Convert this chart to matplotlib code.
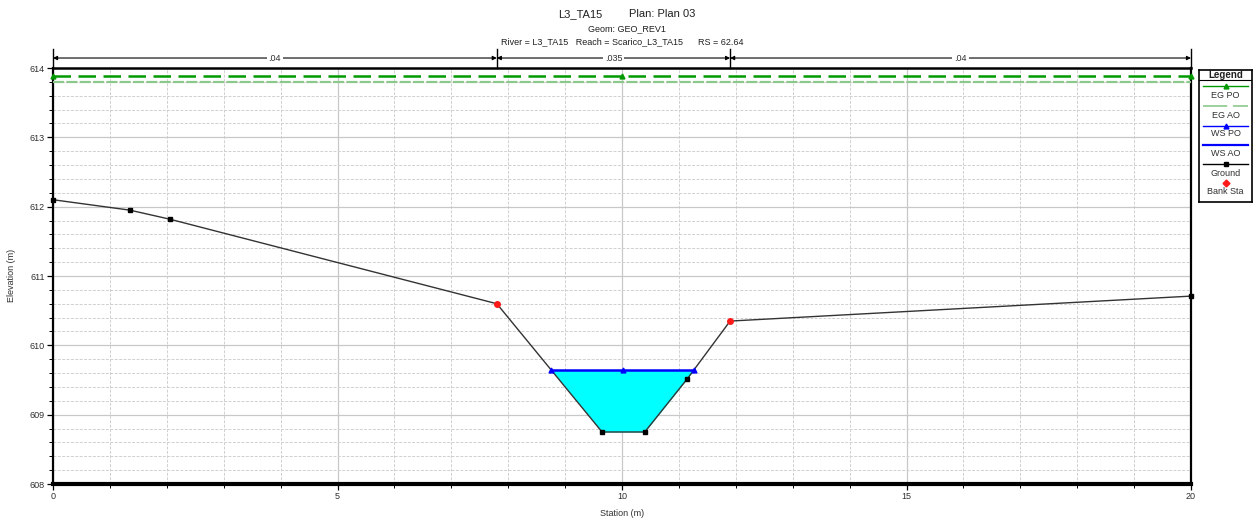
import numpy as np
import matplotlib
matplotlib.use("Agg")
import matplotlib.pyplot as plt
from matplotlib.ticker import MultipleLocator
from matplotlib.transforms import blended_transform_factory

plt.rcParams['font.family'] = ['Liberation Sans', 'DejaVu Sans']

# cross section L3_TA15, RS 62.64
station = np.array([0.0, 1.35, 2.05, 7.8, 9.65, 10.4, 11.15, 11.9, 20.0])
elevation = np.array([612.10, 611.95, 611.82, 610.60, 608.75, 608.75, 609.52, 610.35, 610.71])
bank_sta = [7.8, 11.9]
mann_n = ['.04', '.035', '.04']

# profile results
ws_po = 609.64
eg_po = 613.885
eg_ao = 613.80

GROUND = '#333333'
EG_PO_C = '#009a00'
EG_AO_C = '#8cc88c'
WS_C = '#0000ff'
TXT = '#303030'


def ws_limits(x, z, ws):
    # stations where the water surface meets the ground
    wet = np.where(z < ws)[0]
    i, j = wet[0], wet[-1]
    xl = np.interp(ws, [z[i], z[i - 1]], [x[i], x[i - 1]])
    xr = np.interp(ws, [z[j], z[j + 1]], [x[j], x[j + 1]])
    return xl, xr, i, j


fig = plt.figure(figsize=(12.54, 5.23), dpi=100)
ax = fig.add_axes([53 / 1254, 1 - 484 / 523, (1191 - 53) / 1254, 416 / 523])
ax.set_xlim(0, 20)
ax.set_ylim(608, 614)

ax.xaxis.set_major_locator(MultipleLocator(5))
ax.xaxis.set_minor_locator(MultipleLocator(1))
ax.yaxis.set_major_locator(MultipleLocator(1))
ax.yaxis.set_minor_locator(MultipleLocator(0.2))
ax.grid(which='major', color='#c8c8c8', lw=0.9, ls='-', zorder=0)
ax.grid(which='minor', color='#d0d0d0', lw=0.7, ls=(0, (3, 1.5)), zorder=0)
ax.set_axisbelow(True)
ax.tick_params(which='major', direction='out', length=4, width=0.9, labelsize=6.5,
               labelcolor=TXT, pad=2)
ax.tick_params(which='minor', direction='out', length=3, width=0.7)
for side, w in [('left', 1.6), ('right', 1.6), ('top', 1.8), ('bottom', 3.0)]:
    ax.spines[side].set_linewidth(w)
    ax.spines[side].set_color('black')

# water area
xl, xr, i, j = ws_limits(station, elevation, ws_po)
wx = np.concatenate([[xl], station[i:j + 1], [xr]])
wz = np.concatenate([[ws_po], elevation[i:j + 1], [ws_po]])
ax.fill_between(wx, wz, ws_po, color='#00ffff', lw=0, zorder=2)
ax.plot([xl, (xl + xr) / 2, xr], [ws_po] * 3, color=WS_C, lw=1.8, marker='^', ms=3.5, zorder=5)

# energy grade lines
ax.plot([0, 20], [eg_ao, eg_ao], color=EG_AO_C, lw=1.6, dashes=(5, 1), zorder=3)
ax.plot([0, 10, 20], [eg_po] * 3, color=EG_PO_C, lw=1.8, dashes=(7, 3),
        marker='^', ms=3.5, zorder=4, clip_on=False)

# ground and bank stations
ax.plot(station, elevation, color=GROUND, lw=1.0, zorder=4)
pts = ~np.isin(station, bank_sta)
ax.plot(station[pts], elevation[pts], ls='none', marker='s', ms=3.5, color='black', zorder=6,
        clip_on=False)
ax.plot(bank_sta, np.interp(bank_sta, station, elevation), ls='none', marker='o', ms=4,
        color='#ff1a1a', zorder=6)

# Manning's n values above the plot
trans = blended_transform_factory(ax.transData, ax.transAxes)
bounds = [0.0] + bank_sta + [20.0]
for k, n in enumerate(mann_n):
    x0, x1 = bounds[k], bounds[k + 1]
    ax.annotate('', xy=(x1, 1.024), xytext=(x0, 1.024), xycoords=trans, textcoords=trans,
                arrowprops=dict(arrowstyle='<|-|>', color='black', lw=0.8, mutation_scale=6,
                                shrinkA=0, shrinkB=0), annotation_clip=False)
    ax.text((x0 + x1) / 2, 1.024, n, transform=trans, ha='center', va='center', fontsize=6.5,
            color=TXT, bbox=dict(facecolor='white', edgecolor='none', pad=1.5), clip_on=False)
for b in bounds:
    ax.plot([b, b], [1.0, 1.046], transform=trans, color='black', lw=1.0, clip_on=False)

# titles and axis labels
fig.text(580 / 1254, 1 - 14 / 523, 'L3_TA15', ha='center', va='center', fontsize=8, color='#202020')
fig.text(662 / 1254, 1 - 14 / 523, 'Plan: Plan 03', ha='center', va='center', fontsize=8, color='#202020')
fig.text(627 / 1254, 1 - 29 / 523, 'Geom: GEO_REV1', ha='center', va='center', fontsize=6.5, color='#202020')
fig.text(622 / 1254, 1 - 42 / 523, 'River = L3_TA15   Reach = Scarico_L3_TA15      RS = 62.64',
         ha='center', va='center', fontsize=6.5, color='#202020')
fig.text(12 / 1254, 1 - 275 / 523, 'Elevation (m)', rotation=90, ha='center', va='center',
         fontsize=6.5, color=TXT)
fig.text(622 / 1254, 1 - 514 / 523, 'Station (m)', ha='center', va='center', fontsize=6.5, color=TXT)

# legend box
lax = fig.add_axes([1199 / 1254, 1 - 202 / 523, 53 / 1254, 132 / 523])
lax.set_xlim(0, 53)
lax.set_ylim(132, 0)
lax.set_xticks([])
lax.set_yticks([])
for s in lax.spines.values():
    s.set_linewidth(1.2)
lax.text(26.5, 5, 'Legend', ha='center', va='center', fontsize=7, fontweight='bold', color='#202020')
lax.plot([0, 53], [10, 10], color='black', lw=0.8)
lax.plot([4, 26.5, 49], [16] * 3, color=EG_PO_C, lw=1.0, marker='^', markevery=[1], ms=3.5)
lax.text(26.5, 25, 'EG PO', ha='center', va='center', fontsize=6.5, color=TXT)
lax.plot([4, 49], [36, 36], color=EG_AO_C, lw=1.2, dashes=(14.5, 3.5))
lax.text(26.5, 45, 'EG AO', ha='center', va='center', fontsize=6.5, color=TXT)
lax.plot([4, 26.5, 49], [56] * 3, color=WS_C, lw=1.0, marker='^', markevery=[1], ms=3.5)
lax.text(26.5, 64, 'WS PO', ha='center', va='center', fontsize=6.5, color=TXT)
lax.plot([4, 49], [75, 75], color=WS_C, lw=1.6)
lax.text(26.5, 84, 'WS AO', ha='center', va='center', fontsize=6.5, color=TXT)
lax.plot([4, 26.5, 49], [94] * 3, color='black', lw=1.0, marker='s', markevery=[1], ms=3.5)
lax.text(26.5, 104, 'Ground', ha='center', va='center', fontsize=6.5, color=TXT)
lax.plot([26.5], [113], marker='D', ms=3.5, color='#ff1a1a')
lax.text(26.5, 122, 'Bank Sta', ha='center', va='center', fontsize=6.5, color=TXT)

fig.savefig('out.png', dpi=100)
